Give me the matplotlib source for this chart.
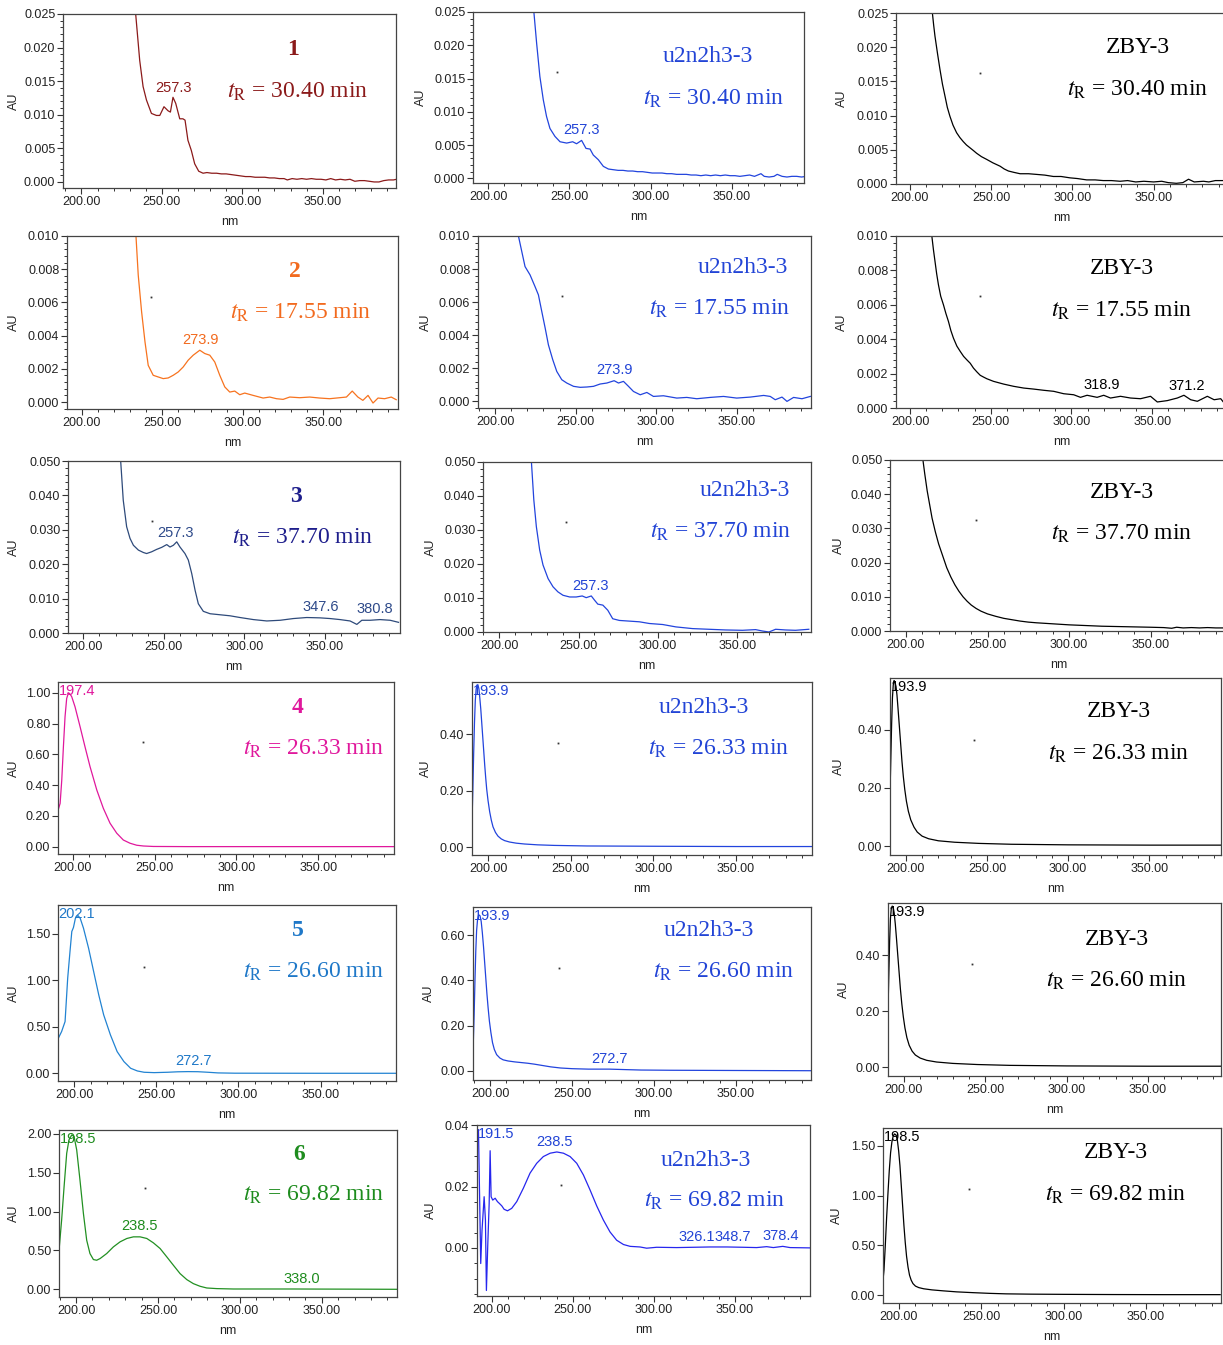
import numpy as np
import matplotlib
matplotlib.use("Agg")
import matplotlib.pyplot as plt
from matplotlib.ticker import MultipleLocator, FormatStrFormatter, AutoMinorLocator

plt.rcParams['font.family'] = ['Liberation Sans', 'DejaVu Sans']
plt.rcParams['mathtext.fontset'] = 'stix'

W, H = 1223, 1345

# ---------------- data (wavelength nm, absorbance AU) ----------------
WL_1_1 = [233.7, 236.2, 238.3, 240.4, 243.5, 246.6, 248.7, 251.3, 253.8, 255.3,
          256.9, 258.6, 261.1, 263.1, 264.4, 266.2, 268.3, 270.4, 272.9, 275.6,
          278, 281, 284, 287, 290, 293, 296, 299, 302, 305,
          308, 311, 314, 317, 320, 323, 326, 328, 331, 334,
          337, 340, 343, 346, 349, 352, 355, 358, 361, 364,
          367, 370, 373, 376, 379, 382, 385, 388, 391, 394, 396]
AU_1_1 = [0.0250, 0.0181, 0.0142, 0.0122, 0.0102, 0.0099, 0.0099, 0.0112, 0.0106, 0.0104,
          0.0126, 0.0117, 0.0094, 0.0094, 0.0092, 0.0062, 0.0047, 0.0027, 0.0016, 0.0013,
          0.0014, 0.0013, 0.0013, 0.0012, 0.0012, 0.0011, 0.0010, 0.0009, 0.0008, 0.0008,
          0.0007, 0.0007, 0.0007, 0.0006, 0.0006, 0.0005, 0.0005, 0.0003, 0.0005, 0.0004,
          0.0005, 0.0004, 0.0005, 0.0004, 0.0004, 0.0003, 0.0005, 0.0003, 0.0004, 0.0003,
          0.0004, 0.0001, 0.0002, 0.0002, 0.0001, 0.0000, 0.0000, 0.0002, 0.0003, 0.0003, 0.0004]

WL_1_2 = [228.1, 229.8, 231.8, 233.9, 235.9, 238.0, 241.1, 244.2, 248.3, 252.0,
          254.4, 257.5, 260.2, 262.7, 264.7, 267.8, 270.9, 274.0, 277, 280,
          283, 286, 289, 292, 295, 298, 301, 304, 307, 310,
          313, 316, 319, 322, 325, 328, 331, 334, 337, 340,
          343, 346, 349, 352, 355, 358, 361, 364, 366, 368,
          370, 373, 376, 378, 381, 384, 387, 390, 393, 396]
AU_1_2 = [0.0250, 0.0203, 0.0153, 0.0118, 0.0093, 0.0075, 0.0063, 0.0055, 0.0053, 0.0055,
          0.0052, 0.0057, 0.0045, 0.0044, 0.0035, 0.0028, 0.0018, 0.0014, 0.0013, 0.0012,
          0.0012, 0.0011, 0.0011, 0.0010, 0.0010, 0.0009, 0.0008, 0.0008, 0.0008, 0.0007,
          0.0007, 0.0006, 0.0006, 0.0006, 0.0005, 0.0005, 0.0004, 0.0005, 0.0004, 0.0005,
          0.0004, 0.0005, 0.0004, 0.0004, 0.0003, 0.0004, 0.0005, 0.0003, 0.0005, 0.0007,
          0.0003, 0.0002, 0.0003, 0.0006, 0.0003, 0.0002, 0.0003, 0.0003, 0.0002, 0.0003]

WL_1_3 = [213.8, 214.6, 215.4, 217.0, 218.5, 220.0, 221.6, 223.0, 224.6, 226.5,
          228.7, 230.7, 232.8, 234.8, 236.9, 239.0, 241.0, 244.0, 247.2, 251.0,
          255.5, 258.0, 260.6, 264.0, 267.8, 273, 278.1, 283, 288.3, 293,
          298.5, 303, 308.8, 314, 319.0, 324, 329.4, 334, 339, 344,
          350, 355, 359, 364, 368, 371.5, 375, 380.7, 384, 388, 393, 396]
AU_1_3 = [0.0250, 0.0232, 0.0216, 0.0190, 0.0167, 0.0146, 0.0128, 0.0112, 0.0099, 0.0086,
          0.0075, 0.0068, 0.0062, 0.0057, 0.0053, 0.0049, 0.0045, 0.0040, 0.0036, 0.0031,
          0.0026, 0.0022, 0.0019, 0.0017, 0.0015, 0.0015, 0.0014, 0.0013, 0.0011, 0.0011,
          0.0009, 0.0008, 0.0006, 0.0006, 0.0005, 0.0005, 0.0004, 0.0005, 0.0003, 0.0004,
          0.0003, 0.0004, 0.0002, 0.0001, 0.0002, 0.0007, 0.0003, 0.0004, 0.0003, 0.0005,
          0.0005, 0.0004]

WL_2_1 = [233.7, 235.1, 237.2, 239.3, 241.3, 244.4, 247.5, 250.6, 253.7, 256.8,
          259.9, 263.0, 266.1, 269.2, 273.3, 276.4, 279.5, 282.6, 285.7, 288.8,
          291.9, 295.0, 298.1, 301.2, 306.4, 312.6, 316.7, 320.9, 325.0, 329.1,
          335.3, 341.5, 347.7, 353.9, 360.1, 364.3, 367.9, 371.4, 374.5, 377.7,
          380.8, 383.9, 388.0, 392.1, 395.2]
AU_2_1 = [0.0100, 0.00765, 0.00543, 0.00362, 0.00221, 0.00161, 0.00151, 0.00141, 0.00145, 0.00161,
          0.00181, 0.00211, 0.00252, 0.00282, 0.00312, 0.00292, 0.00282, 0.00241, 0.00161, 0.00091,
          0.00060, 0.00066, 0.00044, 0.00054, 0.00040, 0.00024, 0.00030, 0.00020, 0.00016, 0.00030,
          0.00026, 0.00030, 0.00024, 0.00020, 0.00026, 0.00030, 0.00066, 0.00030, 0.00010, 0.00040,
          -0.00006, 0.00024, 0.00020, 0.00030, 0.00014]

WL_2_2 = [214.5, 216.6, 218.6, 221.7, 224.8, 226.9, 229.0, 231.1, 233.1, 235.8,
          238.3, 241.4, 244.5, 248.7, 252.8, 257.0, 261.1, 265.2, 269.4, 273.9,
          276.6, 279.7, 282.8, 285.9, 290.1, 294.2, 298.3, 304.5, 312.8, 319.0,
          325.2, 333.5, 341.8, 350.0, 358.4, 366.7, 370.8, 373.9, 378.1, 381.2,
          385.3, 390.5, 395.7]
AU_2_2 = [0.0100, 0.00905, 0.00815, 0.00765, 0.00694, 0.00644, 0.00543, 0.00443, 0.00342, 0.00252,
          0.00181, 0.00131, 0.00111, 0.00091, 0.00085, 0.00087, 0.00091, 0.00105, 0.00111, 0.00125,
          0.00111, 0.00121, 0.00091, 0.00060, 0.00040, 0.00054, 0.00030, 0.00034, 0.00020, 0.00024,
          0.00016, 0.00024, 0.00030, 0.00020, 0.00026, 0.00036, 0.00030, 0.00010, 0.00026, 0.00000,
          0.00024, 0.00016, 0.00030]

WL_2_3 = [213.5, 214.5, 215.5, 216.5, 217.6, 219.0, 220.7, 222.2, 223.8, 225.3,
          226.9, 229.0, 231.1, 233.2, 235.2, 237.3, 239.3, 241.4, 243.5, 245.5,
          247.6, 251.7, 258.0, 264.2, 270.4, 276.6, 282.8, 289.0, 295.2, 301.4,
          305.6, 309.7, 315.9, 320.0, 324.2, 330.4, 336.6, 342.8, 349.0, 353.2,
          359.4, 365.6, 369.7, 373.9, 378.0, 384.2, 388.4, 392.5, 394.6]
AU_2_3 = [0.0100, 0.0092, 0.0085, 0.0078, 0.00716, 0.0065, 0.0060, 0.0055, 0.00503, 0.0045,
          0.00406, 0.0036, 0.00329, 0.0030, 0.0028, 0.0026, 0.00232, 0.0021, 0.0019, 0.0018,
          0.0017, 0.00155, 0.00139, 0.00126, 0.00116, 0.0011, 0.00103, 0.00097, 0.00083, 0.00077,
          0.00062, 0.00074, 0.00062, 0.00074, 0.00058, 0.00068, 0.00058, 0.00054, 0.00068, 0.00035,
          0.00043, 0.00058, 0.00074, 0.00048, 0.00039, 0.00068, 0.00048, 0.00054, 0.00029]

WL_3_1 = [223.2, 224.8, 226.9, 229.0, 231.1, 234.2, 237.3, 239.3, 242.4, 245.5,
          248.7, 251.8, 253.8, 255.9, 258.0, 260.0, 263.1, 265.2, 267.3, 269.4,
          271.4, 274.5, 278.7, 284.9, 291.1, 297.3, 305.6, 313.9, 322.2, 330.4,
          338.7, 347.0, 353.2, 359.4, 365.6, 369.8, 372.9, 378.0, 384.2, 390.5, 395.7]
AU_3_1 = [0.0500, 0.0386, 0.0309, 0.0275, 0.0255, 0.0241, 0.0234, 0.0231, 0.0236, 0.0243,
          0.0249, 0.0257, 0.0250, 0.0255, 0.0265, 0.0250, 0.0231, 0.0212, 0.0173, 0.0124,
          0.0085, 0.0063, 0.0056, 0.0053, 0.0050, 0.0045, 0.0039, 0.0035, 0.0037, 0.0042,
          0.0045, 0.0044, 0.0042, 0.0039, 0.0035, 0.0025, 0.0037, 0.0037, 0.0039, 0.0037, 0.0031]

WL_3_2 = [220.3, 221.8, 223.4, 225.5, 227.6, 230.8, 233.9, 237.0, 240.2, 244.4,
          248.5, 252.3, 254.8, 258.0, 260.0, 262.1, 265.3, 268.4, 271.5, 275.7,
          282.0, 288.3, 294.6, 303.0, 311.3, 321.8, 332.2, 342.7, 353.2, 361.5,
          365.7, 369.9, 374.1, 380.4, 386.6, 395.0]
AU_3_2 = [0.0500, 0.0389, 0.0310, 0.0241, 0.0197, 0.0157, 0.0133, 0.0118, 0.0108, 0.0103,
          0.0103, 0.0106, 0.0101, 0.0106, 0.0094, 0.0082, 0.0079, 0.0064, 0.0039, 0.0034,
          0.0032, 0.0030, 0.0025, 0.0022, 0.0015, 0.0010, 0.0008, 0.0006, 0.0005, 0.0007,
          0.0003, 0.0000, 0.0008, 0.0006, 0.0005, 0.0008]

WL_3_3 = [210.4, 211.5, 213.0, 214.5, 216.0, 218.0, 220.0, 222.5, 225.0, 227.5,
          230.0, 232.5, 235.0, 237.5, 240.0, 243.0, 246.0, 250.0, 255.0, 260.0,
          265.0, 270.0, 275.0, 280.0, 290.0, 300.0, 310.0, 320.0, 330.0, 340.0,
          350.0, 358.0, 363.0, 366.0, 370.0, 375.0, 380.0, 385.0, 390.0, 396.0]
AU_3_3 = [0.0500, 0.0460, 0.0410, 0.0370, 0.0330, 0.0290, 0.0255, 0.0220, 0.0185, 0.0158,
          0.0135, 0.0116, 0.0100, 0.0087, 0.0076, 0.0066, 0.0058, 0.0050, 0.0043, 0.0037,
          0.0033, 0.0029, 0.0026, 0.0024, 0.0021, 0.0018, 0.0016, 0.0014, 0.0013, 0.0012,
          0.0011, 0.0010, 0.0008, 0.0011, 0.0009, 0.0010, 0.0009, 0.0010, 0.0009, 0.0009]

WL_4_1 = [191.2, 192.3, 193.3, 194.3, 195.3, 196.3, 197.4, 198.4, 199.4, 201.4,
          204.5, 207.5, 210.6, 214.7, 218.7, 222.8, 226.9, 230.9, 235.0, 239.1,
          243.2, 249.3, 270, 300, 350, 396]
AU_4_1 = [0.242, 0.281, 0.433, 0.649, 0.844, 0.963, 1.000, 0.991, 0.974, 0.909,
          0.779, 0.649, 0.519, 0.368, 0.249, 0.152, 0.087, 0.043, 0.022, 0.009,
          0.004, 0.001, 0.000, 0.000, 0.000, 0.000]

WL_4_2 = [190.3, 190.8, 191.3, 191.8, 192.3, 192.8, 193.4, 193.9, 194.5, 195.0,
          195.6, 196.2, 196.8, 197.4, 198.0, 198.6, 199.2, 200.0, 201.0, 202.0,
          203.0, 204.5, 206.0, 208.0, 210.0, 213.0, 217.0, 222.0, 230.0, 240.0,
          260.0, 300.0, 350.0, 396.0]
AU_4_2 = [0.090, 0.200, 0.330, 0.440, 0.520, 0.560, 0.575, 0.575, 0.560, 0.530,
          0.490, 0.440, 0.390, 0.340, 0.290, 0.245, 0.205, 0.165, 0.125, 0.095,
          0.072, 0.052, 0.039, 0.029, 0.023, 0.018, 0.014, 0.011, 0.008, 0.006,
          0.004, 0.003, 0.002, 0.002]

WL_4_3 = [190.2, 190.7, 191.2, 191.7, 192.2, 192.7, 193.2, 193.9, 194.5, 195.2,
          196.0, 196.8, 197.6, 198.4, 199.3, 200.3, 201.5, 203.0, 205.0, 207.0,
          210.0, 214.0, 220.0, 230.0, 245.0, 265.0, 300.0, 350.0, 394.0]
AU_4_3 = [0.180, 0.300, 0.420, 0.510, 0.555, 0.570, 0.565, 0.550, 0.520, 0.470,
          0.410, 0.350, 0.290, 0.240, 0.195, 0.155, 0.120, 0.090, 0.065, 0.048,
          0.034, 0.025, 0.018, 0.013, 0.009, 0.006, 0.004, 0.003, 0.003]

WL_5_1 = [190.4, 192.4, 194.5, 196.1, 197.5, 198.6, 199.6, 200.8, 202.3, 203.7,
          205.7, 208.8, 211.9, 215.0, 218.0, 222.1, 226.2, 230.3, 234.4, 238.5,
          242.6, 248.7, 256.9, 263.0, 269.2, 275.3, 281.4, 287.6, 297.8, 350, 396]
AU_5_1 = [0.377, 0.449, 0.556, 1.023, 1.310, 1.525, 1.568, 1.668, 1.697, 1.668,
          1.561, 1.346, 1.094, 0.843, 0.628, 0.413, 0.233, 0.126, 0.054, 0.025,
          0.011, 0.007, 0.011, 0.016, 0.018, 0.017, 0.011, 0.004, 0.001, 0.000, 0.000]

WL_5_2 = [189.8, 190.3, 190.8, 191.3, 191.8, 192.4, 193.0, 193.9, 194.6, 195.3,
          196.0, 196.7, 197.4, 198.1, 198.8, 199.6, 200.5, 201.5, 202.6, 204.0,
          206.0, 208.0, 211.0, 215.0, 219.0, 223.0, 227.0, 232.0, 237.0, 243.0,
          250.0, 260.0, 272.7, 282.0, 292.0, 310.0, 350.0, 396.0]
AU_5_2 = [0.130, 0.250, 0.400, 0.530, 0.620, 0.670, 0.690, 0.685, 0.660, 0.610,
          0.550, 0.480, 0.410, 0.340, 0.280, 0.220, 0.170, 0.125, 0.095, 0.072,
          0.057, 0.049, 0.044, 0.040, 0.037, 0.034, 0.030, 0.024, 0.018, 0.013,
          0.010, 0.008, 0.008, 0.006, 0.004, 0.003, 0.002, 0.001]

WL_5_3 = [190.2, 190.7, 191.2, 191.7, 192.2, 192.8, 193.4, 194.0, 194.7, 195.4,
          196.2, 197.0, 197.8, 198.7, 199.6, 200.6, 201.8, 203.2, 205.0, 207.0,
          210.0, 214.0, 220.0, 230.0, 245.0, 265.0, 300.0, 350.0, 395.0]
AU_5_3 = [0.200, 0.330, 0.450, 0.530, 0.565, 0.575, 0.570, 0.550, 0.510, 0.460,
          0.400, 0.340, 0.280, 0.225, 0.180, 0.140, 0.105, 0.078, 0.057, 0.043,
          0.032, 0.024, 0.018, 0.013, 0.009, 0.006, 0.004, 0.003, 0.003]

WL_6_1 = [189.8, 191.2, 192.7, 194.3, 195.7, 197.4, 198.8, 200.4, 202.4, 204.5,
          206.5, 208.5, 210.6, 212.6, 214.7, 218.7, 222.8, 226.9, 231.0, 235.0,
          239.1, 243.2, 247.2, 251.3, 255.4, 259.4, 263.5, 267.6, 271.6, 275.7,
          279.8, 285.9, 296.1, 316.4, 332.7, 347.0, 370, 396]
AU_6_1 = [0.546, 0.890, 1.320, 1.750, 1.923, 1.987, 1.966, 1.794, 1.406, 0.976,
          0.632, 0.460, 0.383, 0.374, 0.396, 0.460, 0.546, 0.611, 0.654, 0.675,
          0.675, 0.654, 0.598, 0.525, 0.417, 0.310, 0.202, 0.125, 0.073, 0.039,
          0.017, 0.009, 0.004, 0.004, 0.004, 0.003, 0.002, 0.000]

WL_6_2 = [191.0, 191.8, 192.4, 193.2, 194.0, 195.3, 196.1, 196.7, 197.5, 198.4,
          199.0, 199.6, 200.6, 202.1, 203.5, 204.7, 206.2, 207.6, 209.7, 212.3,
          215.4, 219.5, 223.6, 227.7, 231.8, 236.0, 240.1, 244.2, 248.3, 252.4,
          256.5, 260.6, 264.7, 268.8, 272.9, 277.0, 281.2, 285.3, 291.4, 295.5,
          301.7, 314.0, 324.3, 334.6, 344.9, 355.1, 363.3, 369.5, 373.6, 379.4,
          383.9, 396.0]
AU_6_2 = [0.0353, 0.0386, 0.0200, -0.0051, 0.0058, 0.0167, 0.0091, -0.0139, 0.0003, 0.0145,
          0.0317, 0.0167, 0.0156, 0.0162, 0.0151, 0.0145, 0.0137, 0.0126, 0.0121, 0.0129,
          0.0151, 0.0195, 0.0244, 0.0276, 0.0298, 0.0309, 0.0313, 0.0309, 0.0298, 0.0276,
          0.0238, 0.0189, 0.0137, 0.0091, 0.0052, 0.0025, 0.0011, 0.0005, 0.0003, -0.0001,
          0.0002, 0.0001, 0.0002, 0.0003, 0.0003, 0.0002, 0.0001, 0.0004, 0.0001, 0.0005,
          0.0001, 0.0000]

WL_6_3 = [190.3, 190.9, 191.7, 192.5, 193.3, 194.1, 194.9, 195.7, 196.5, 197.3,
          198.2, 199.0, 199.8, 200.6, 201.4, 202.2, 203.0, 203.8, 204.6, 205.5,
          206.4, 207.4, 208.5, 210.0, 212.0, 215.0, 220.0, 227.0, 235.0, 245.0,
          255.0, 265.0, 280.0, 300.0, 330.0, 360.0, 395.0]
AU_6_3 = [0.15, 0.25, 0.50, 0.78, 1.02, 1.25, 1.43, 1.54, 1.60, 1.62,
          1.61, 1.56, 1.45, 1.30, 1.10, 0.90, 0.70, 0.53, 0.39, 0.28,
          0.20, 0.15, 0.115, 0.090, 0.075, 0.063, 0.052, 0.042, 0.032, 0.024,
          0.017, 0.012, 0.009, 0.007, 0.005, 0.004, 0.004]

CURVES = [[(WL_1_1, AU_1_1), (WL_1_2, AU_1_2), (WL_1_3, AU_1_3)],
          [(WL_2_1, AU_2_1), (WL_2_2, AU_2_2), (WL_2_3, AU_2_3)],
          [(WL_3_1, AU_3_1), (WL_3_2, AU_3_2), (WL_3_3, AU_3_3)],
          [(WL_4_1, AU_4_1), (WL_4_2, AU_4_2), (WL_4_3, AU_4_3)],
          [(WL_5_1, AU_5_1), (WL_5_2, AU_5_2), (WL_5_3, AU_5_3)],
          [(WL_6_1, AU_6_1), (WL_6_2, AU_6_2), (WL_6_3, AU_6_3)]]

COMPOUNDS = ["1", "2", "3", "4", "5", "6"]
SAMPLES = ["u2n2h3-3", "ZBY-3"]
RET_TIMES = ["30.40", "17.55", "37.70", "26.33", "26.60", "69.82"]

# peak labels: (text, wavelength, mode)
PEAKS = [[[("257.3", 257.3, "peak")], [("257.3", 257.3, "peak")], []],
         [[("273.9", 273.9, "peak")], [("273.9", 273.9, "peak")],
          [("318.9", 318.9, "peak"), ("371.2", 371.2, "peak")]],
         [[("257.3", 257.3, "peak"), ("347.6", 347.6, "peak"), ("380.8", 380.8, "peak")],
          [("257.3", 257.3, "peak")], []],
         [[("197.4", 197.4, "top")], [("193.9", 193.9, "top")], [("193.9", 193.9, "top")]],
         [[("202.1", 202.1, "top"), ("272.7", 272.7, "peak")],
          [("193.9", 193.9, "top"), ("272.7", 272.7, "peak")], [("193.9", 193.9, "top")]],
         [[("198.5", 198.5, "top"), ("238.5", 238.5, "peak"), ("338.0", 338.0, "peak")],
          [("191.5", 191.5, "top"), ("238.5", 238.5, "peak"), ("326.1", 326.1, "peak"),
           ("348.7", 348.7, "peak"), ("378.4", 378.4, "peak")],
          [("198.5", 198.5, "top")]]]

# axis settings per panel: (ymin, ymax, major step, fmt, minor subdivisions)
YAX = [[(-0.0009, 0.025, 0.005, '%.3f', 5), (-0.0007, 0.025, 0.005, '%.3f', 5), (0.0, 0.025, 0.005, '%.3f', 5)],
       [(-0.00042, 0.010, 0.002, '%.3f', 5), (-0.0004, 0.010, 0.002, '%.3f', 5), (0.0, 0.010, 0.002, '%.3f', 5)],
       [(0.0, 0.050, 0.010, '%.3f', 5), (0.0, 0.050, 0.010, '%.3f', 5), (0.0, 0.050, 0.010, '%.3f', 5)],
       [(-0.048, 1.07, 0.20, '%.2f', 0), (-0.028, 0.585, 0.20, '%.2f', 0), (-0.031, 0.579, 0.20, '%.2f', 0)],
       [(-0.083, 1.81, 0.50, '%.2f', 0), (-0.04, 0.724, 0.20, '%.2f', 0), (-0.032, 0.586, 0.20, '%.2f', 0)],
       [(-0.099, 2.05, 0.50, '%.2f', 0), (-0.0157, 0.0401, 0.02, '%.2f', 4), (-0.08, 1.68, 0.50, '%.2f', 0)]]

# ---------------- layout / style ----------------
# axes boxes in pixels: (left, top, right, bottom)
BOX = [[(63, 14, 396, 188), (473, 12, 804, 183), (896, 13, 1228, 184)],
       [(67, 236, 398, 409), (478, 236, 811, 408), (896, 236, 1228, 408)],
       [(68, 461, 400, 633), (483, 462, 811, 632), (890, 460, 1228, 631)],
       [(58, 682, 394, 854), (472, 682, 812, 855), (890, 678, 1221, 855)],
       [(58, 905, 396, 1081), (473, 907, 811, 1080), (888, 903, 1221, 1076)],
       [(59, 1130, 397, 1297), (477, 1125, 810, 1296), (883, 1128, 1221, 1303)]]
XLIM = [[(188.5, 395.6), (190.6, 394.5), (191.4, 395.8)],
        [(190.9, 396.3), (189.4, 396.1), (191.3, 397.0)],
        [(190.5, 396.6), (189.8, 396.4), (190.2, 397.5)],
        [(191.0, 396.3), (190.3, 396.0), (190.2, 394.2)],
        [(190.2, 395.9), (189.6, 395.7), (190.2, 394.8)],
        [(189.6, 395.9), (190.9, 396.2), (190.3, 395.5)]]
TITLE_XY = [[(293, 47), (708, 54), (1138, 45)],
            [(295, 269), (743, 265), (1122, 266)],
            [(296, 494), (745, 488), (1122, 490)],
            [(298, 705), (704, 705), (1119, 709)],
            [(298, 928), (709, 928), (1117, 937)],
            [(299, 1152), (706, 1158), (1116, 1150)]]
TR_XY = [[(298, 90), (714, 97), (1138, 88)],
         [(301, 311), (720, 307), (1122, 309)],
         [(303, 536), (721, 530), (1122, 532)],
         [(314, 747), (719, 747), (1119, 752)],
         [(314, 970), (724, 970), (1117, 979)],
         [(314, 1193), (715, 1199), (1116, 1193)]]
AU_X = [[15, 422, 843], [15, 427, 843], [15, 432, 840],
        [15, 427, 840], [15, 430, 845], [15, 432, 838]]

C1_LINE = ["#8B1A1A", "#F7731F", "#2E4A7A", "#E0189C", "#2283D2", "#229022"]
C1_TEXT = ["#8B1A1A", "#F26A1E", "#1E1E8C", "#E0189C", "#1F78C8", "#1E8C1E"]
C1_PEAK = ["#8B1A1A", "#F26A1E", "#2E4A8A", "#E0189C", "#1F78C8", "#1E8C1E"]
C2_LINE = ["#2244DD", "#2244DD", "#2244DD", "#2244DD", "#2244DD", "#2626EE"]
C2_TEXT = "#2244D6"
C3_LINE = "#000000"

SERIF = ['Liberation Serif', 'DejaVu Serif']

fig = plt.figure(figsize=(W / 100, H / 100), dpi=100)

for r in range(6):
    for c in range(3):
        l, t, rr, b = BOX[r][c]
        wpx, hpx = rr - l, b - t
        ax = fig.add_axes([l / W, 1 - b / H, wpx / W, hpx / H])
        wl, au = CURVES[r][c]
        n = min(len(wl), len(au))
        if c == 0:
            lc, tc, pc = C1_LINE[r], C1_TEXT[r], C1_PEAK[r]
        elif c == 1:
            lc, tc, pc = C2_LINE[r], C2_TEXT, C2_TEXT
        else:
            lc, tc, pc = C3_LINE, "#000000", "#000000"
        ax.plot(wl[:n], au[:n], color=lc, lw=0.9, solid_joinstyle='round')

        ymin, ymax, step, fmt, sub = YAX[r][c]
        ax.set_xlim(*XLIM[r][c])
        ax.set_ylim(ymin, ymax)
        ax.xaxis.set_major_locator(MultipleLocator(50))
        ax.xaxis.set_minor_locator(MultipleLocator(10))
        ax.xaxis.set_major_formatter(FormatStrFormatter('%.2f'))
        ax.yaxis.set_major_locator(MultipleLocator(step))
        ax.yaxis.set_major_formatter(FormatStrFormatter(fmt))
        if sub:
            ax.yaxis.set_minor_locator(AutoMinorLocator(sub))
        ax.tick_params(which='major', direction='out', length=4, width=0.8,
                       labelsize=9, colors='#333333', labelcolor='#222222', pad=1.5)
        ax.tick_params(which='minor', direction='out', length=2.5, width=0.7, colors='#333333')
        for sp in ax.spines.values():
            sp.set_color('#444444')
            sp.set_linewidth(0.9)

        ax.set_xlabel('nm', fontsize=9, color='#222222')
        ax.xaxis.set_label_coords(0.5, -28 / hpx)
        ax.set_ylabel('AU', fontsize=9, color='#222222')
        ax.yaxis.set_label_coords((AU_X[r][c] + 5 - l) / wpx, 0.5)

        # stray dot
        if not (r == 0 and c == 0):
            ax.plot([0.253], [0.65], marker='s', ms=1.3, color='#333333',
                    transform=ax.transAxes, mec='none')

        # titles
        tx, ty = TITLE_XY[r][c]
        title = COMPOUNDS[r] if c == 0 else SAMPLES[c - 1]
        ax.text((tx - l) / wpx, (b - (ty + 8)) / hpx, title, transform=ax.transAxes,
                ha='center', va='baseline', fontsize=17, color=tc, family=SERIF,
                fontweight='bold' if c == 0 else 'normal')
        rx, ry = TR_XY[r][c]
        ax.text((rx - l) / wpx, (b - (ry + 7.5)) / hpx,
                r'$t_{\mathrm{R}}$ = ' + RET_TIMES[r] + ' min', transform=ax.transAxes,
                ha='center', va='baseline', fontsize=17, color=tc, family=SERIF)

        # peak labels
        for txt, pw, mode in PEAKS[r][c]:
            if mode == 'peak':
                yv = float(np.interp(pw, wl[:n], au[:n]))
                ax.annotate(txt, xy=(pw, yv), xytext=(0, 2.5), textcoords='offset points',
                            ha='center', va='bottom', fontsize=10.5, color=pc)
            else:
                ax.annotate(txt, xy=(0, 1), xycoords='axes fraction', xytext=(0.5, -1.5),
                            textcoords='offset points', ha='left', va='top',
                            fontsize=10.5, color=pc)

fig.savefig('out.png', dpi=100, facecolor='white')
